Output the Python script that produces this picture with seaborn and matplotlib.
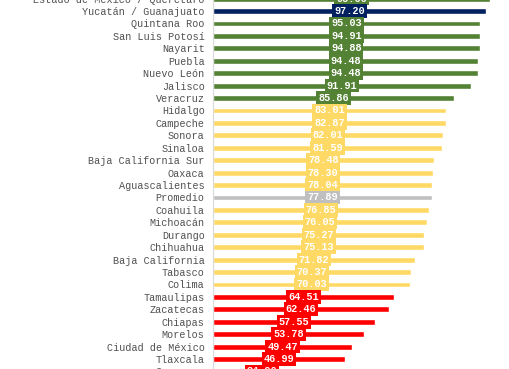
import matplotlib
matplotlib.use("Agg")
import matplotlib.pyplot as plt
import seaborn as sns

# --------------------------------------------------
# Data
# --------------------------------------------------

estados = [
    "Estado de México / Querétaro", "Yucatán / Guanajuato", "Quintana Roo",
    "San Luis Potosí", "Nayarit", "Puebla", "Nuevo León", "Jalisco",
    "Veracruz", "Hidalgo", "Campeche", "Sonora", "Sinaloa",
    "Baja California Sur", "Oaxaca", "Aguascalientes", "Promedio",
    "Coahuila", "Michoacán", "Durango", "Chihuahua", "Baja California",
    "Tabasco", "Colima", "Tamaulipas", "Zacatecas", "Chiapas", "Morelos",
    "Ciudad de México", "Tlaxcala", "Guerrero",
]

valores = [
    98.66, 97.20, 95.03, 94.91, 94.88, 94.48, 94.48, 91.91, 85.86,
    83.01, 82.87, 82.01, 81.59, 78.48, 78.30, 78.04, 77.89, 76.85,
    76.05, 75.27, 75.13, 71.82, 70.37, 70.03, 64.51, 62.46, 57.55,
    53.78, 49.47, 46.99, 34.90,
]

grupos = (
    ["alto"] + ["lider"] + ["alto"] * 7 + ["medio"] * 7 + ["promedio"]
    + ["medio"] * 7 + ["bajo"] * 7
)

colores_grupo = {
    "lider": "#002060",
    "alto": "#548235",
    "medio": "#FFD966",
    "promedio": "#BFBFBF",
    "bajo": "#FF0000",
}

# --------------------------------------------------
# Plot
# --------------------------------------------------

sns.set_style("white")
plt.rcParams["font.family"] = ["Liberation Mono", "DejaVu Sans Mono"]

# the chart is a crop: first and last rows sit half outside the picture
n = len(estados)
row_px = 12.43
top_px = -1.4 - 0.5 * row_px
height_px = n * row_px
fig = plt.figure(figsize=(5.10, 3.69), dpi=100)
ax = fig.add_axes([
    213 / 510,
    1 - (top_px + height_px) / 369,
    297 / 510,
    height_px / 369,
])

paleta = [colores_grupo[g] for g in grupos]

sns.barplot(
    x=valores,
    y=estados,
    hue=estados,
    palette=paleta,
    legend=False,
    width=0.47,
    saturation=1,
    ax=ax,
)

# value labels centred on each bar, boxed in the bar colour
for container in ax.containers:
    color = container.patches[0].get_facecolor()
    ax.bar_label(
        container,
        fmt="%.2f",
        label_type="center",
        color="white",
        fontsize=7.4,
        fontweight="bold",
        bbox=dict(boxstyle="square,pad=0.18", fc=color, ec="none"),
    )

ax.set_xlim(0, 105.7)
ax.set_ylim(n - 0.5, -0.5)

ax.set_xlabel("")
ax.set_ylabel("")
ax.set_xticks([])
ax.tick_params(axis="y", length=0, pad=6, labelsize=7.3, labelcolor="#505050")

for side in ["top", "right", "bottom"]:
    ax.spines[side].set_visible(False)
ax.spines["left"].set_color("#D9D9D9")
ax.spines["left"].set_linewidth(0.8)

plt.savefig("out.png", dpi=100)
plt.close()
